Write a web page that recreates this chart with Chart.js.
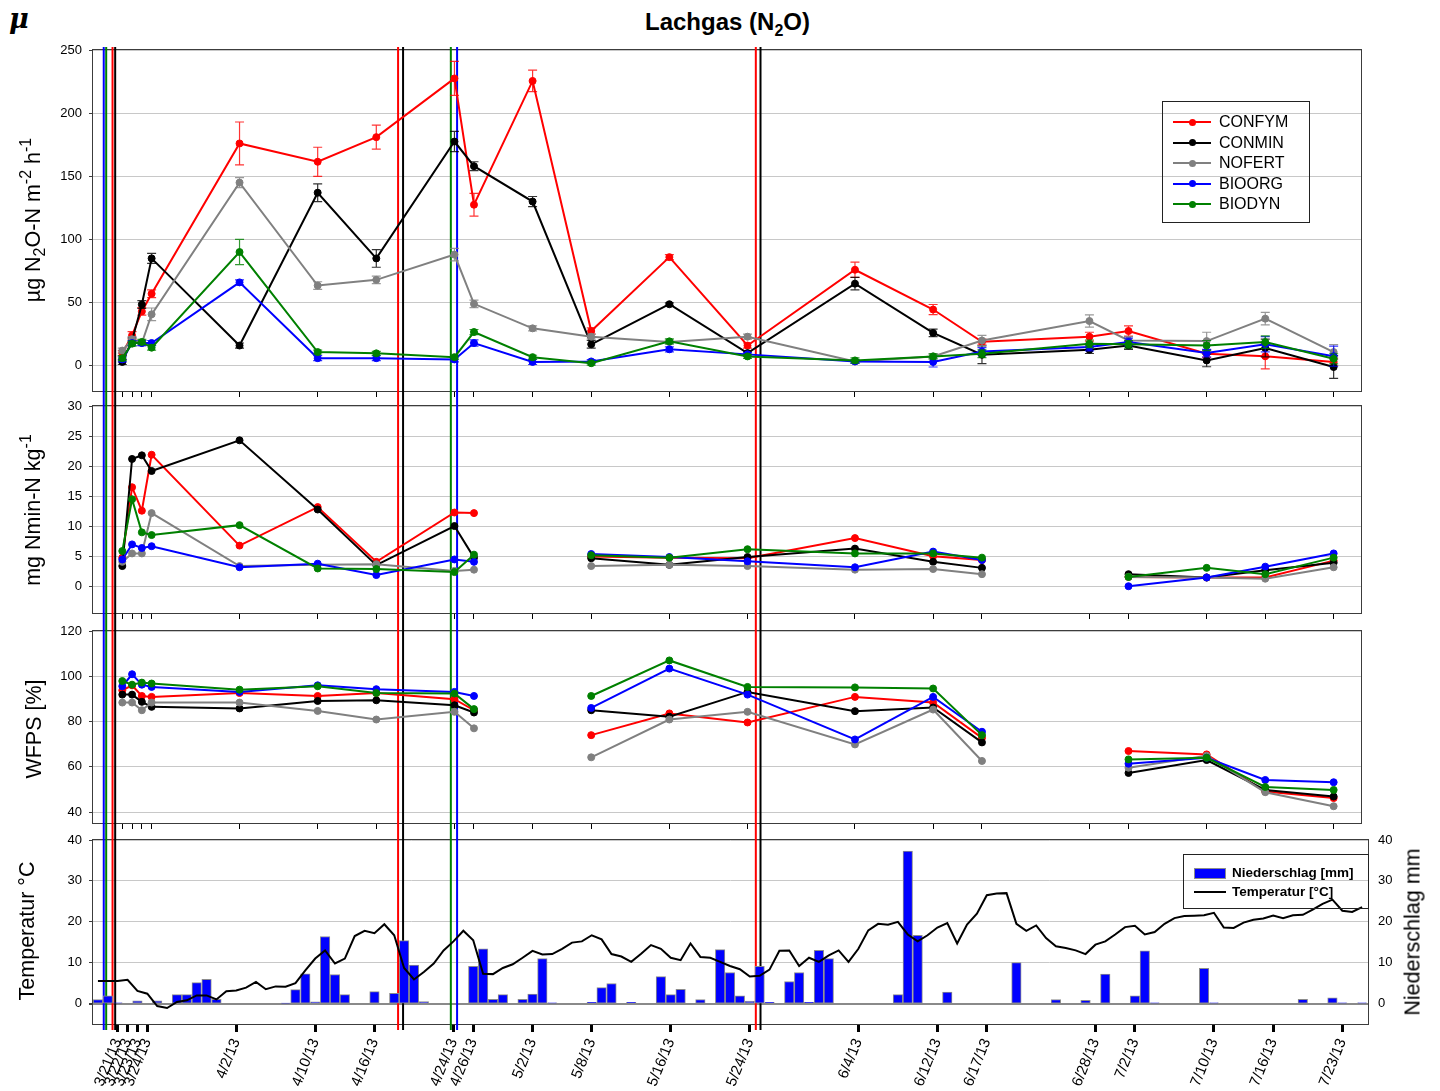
<!DOCTYPE html>
<html>
<head>
<meta charset="utf-8">
<title>Lachgas (N2O)</title>
<script src="https://cdn.jsdelivr.net/npm/chart.js@4.4.1/dist/chart.umd.min.js"></script>
<style>
  html, body { margin: 0; padding: 0; background: #fff; }
  #wrap { position: relative; width: 1440px; height: 1091px; overflow: hidden;
          font-family: "Liberation Sans", Arial, sans-serif; color: #000; }
  .panel { position: absolute; left: 0; width: 1440px; }
  .panel canvas { display: block; }
  #title { position: absolute; left: 0; width: 1455px; top: 8px; text-align: center;
           font-weight: bold; font-size: 24px; }
  #title sub { font-size: 16px; vertical-align: -6px; line-height: 0; }
  #mu { position: absolute; left: 9px; top: 3px; font-family: "DejaVu Serif", "Liberation Serif", serif;
        font-style: italic; font-weight: bold; font-size: 27px; }
  .ytitle { position: absolute; white-space: nowrap; font-size: 21.5px;
            transform: translate(-50%, -50%) rotate(-90deg); }
  .ytitle sub, .ytitle sup { font-size: 16px; line-height: 0; }
  .ytitle sub { vertical-align: -5px; }
  .ytitle sup { vertical-align: 9px; }
  .legend { position: absolute; border: 1px solid #222; box-sizing: border-box; }
  .legend .row { position: absolute; left: 0; height: 20px; line-height: 20px; white-space: nowrap; }
  .legend .mk { position: absolute; top: 9px; height: 2px; }
  .legend .dot { position: absolute; width: 7px; height: 7px; border-radius: 50%; top: -2.5px; left: 15.5px; }
  .legend .txt { position: absolute; top: 0; }
</style>
</head>
<body>
<div id="wrap">
  <div id="mu">μ</div>
  <div id="title">Lachgas (N<sub>2</sub>O)</div>

  <div class="panel" style="top:0px;height:398px"><canvas id="cN2O" width="1440" height="398"></canvas></div>
  <div class="panel" style="top:398px;height:224px"><canvas id="cNmin" width="1440" height="224"></canvas></div>
  <div class="panel" style="top:622px;height:210px"><canvas id="cWFPS" width="1440" height="210"></canvas></div>
  <div class="panel" style="top:832px;height:259px"><canvas id="cWeather" width="1440" height="259"></canvas></div>

  <div class="ytitle" style="left:33px;top:220px">µg N<sub>2</sub>O-N m<sup>-2</sup> h<sup>-1</sup></div>
  <div class="ytitle" style="left:33px;top:510px">mg Nmin-N kg<sup>-1</sup></div>
  <div class="ytitle" style="left:34px;top:729px">WFPS [%]</div>
  <div class="ytitle" style="left:27px;top:931px">Temperatur °C</div>
  <div class="ytitle" style="left:1413px;top:932px">Niederschlag mm</div>

  <div id="legendN2O" class="legend" style="left:1162px;top:101px;width:148px;height:122px;font-size:16px"></div>
  <div id="legendWeather" class="legend" style="left:1183px;top:854px;width:186px;height:55px;font-size:13.5px;font-weight:bold"></div>
</div>

<script>
// ---------------- data ----------------
const SERIES = ['CONFYM', 'CONMIN', 'NOFERT', 'BIOORG', 'BIODYN'];
const SERIES_COLORS = ['#ff0000', '#000000', '#808080', '#0000ff', '#008000'];

const sampleDates = ['3/21/13', '3/22/13', '3/23/13', '3/24/13', '4/2/13', '4/10/13', '4/16/13',
  '4/24/13', '4/26/13', '5/2/13', '5/8/13', '5/16/13', '5/24/13', '6/4/13', '6/12/13', '6/17/13',
  '6/28/13', '7/2/13', '7/10/13', '7/16/13', '7/23/13'];

// N2O flux [µg N2O-N m-2 h-1]: means and standard errors per treatment
const n2oCONFYM = [10, 24, 43, 57, 176, 161.5, 181, 227.5, 127.5, 225.5, 27.5, 86, 16, 76, 44.5, 19, 23, 27.5, 9.5, 7.5, 3];
const n2oCONMIN = [3, 20, 48.5, 85, 16, 137, 85, 177.5, 158, 130, 17, 48.7, 10, 65, 26, 8.7, 12.7, 16, 4.2, 14, -1];
const n2oNOFERT = [12, 21, 18, 40.7, 145, 63.5, 68, 88, 49, 29.6, 23, 18.8, 23, 3.4, 7.4, 20, 35.4, 20, 19.5, 37.3, 10.8];
const n2oBIOORG = [5, 18, 18, 18, 66, 6, 6, 5, 18, 3, 3.4, 13, 9, 3.4, 3, 11.3, 14.8, 18.8, 10, 17, 7.6];
const n2oBIODYN = [6, 17.5, 18.8, 14.3, 90, 10.8, 9.8, 6.8, 26.7, 6.8, 2, 19.3, 7.4, 4.2, 7.4, 9.5, 17.4, 17, 16, 18.7, 5.5];

const seCONFYM = [2, 3, 3, 3, 17, 11.5, 9.5, 13.5, 9, 8.5, 2.5, 2, 2, 6, 4, 2, 3.5, 4, 3, 10, 3];
const seCONMIN = [2, 2, 3, 4, 2, 7, 7, 8, 3.5, 4, 3, 1, 1.5, 5, 3, 7, 3, 3, 5, 7, 9];
const seNOFERT = [2, 2, 2, 5, 4, 3, 3, 5, 3, 2, 2, 1.5, 2, 1.5, 2, 4, 4.8, 3, 7, 5, 6];
const seBIOORG = [2, 2, 2, 2, 2, 2, 2, 2, 2.5, 2, 1.5, 2, 1.5, 1.5, 4, 3, 3, 3, 3, 6, 8];
const seBIODYN = [2, 2, 2, 2, 10, 1.5, 1.5, 1.5, 2, 1.5, 1.5, 2, 1.5, 2, 2, 3, 3, 3, 4, 5, 4];

// Mineral nitrogen [mg Nmin-N kg-1] (no samples on 5/2 and 6/28)
const nminCONFYM = [4.8, 16.5, 12.6, 21.9, 6.8, 13.2, 4.1, 12.3, 12.2, null, 5.0, 4.8, 4.7, 8.05, 5.05, 4.4, null, 1.6, 1.5, 1.5, 4.3];
const nminCONMIN = [3.4, 21.2, 21.8, 19.2, 24.3, 12.8, 3.55, 10.05, 4.8, null, 4.7, 3.6, 4.9, 6.3, 4.1, 3.1, null, 2.05, 1.5, 2.7, 3.95];
const nminNOFERT = [4.1, 5.5, 5.5, 12.2, 3.4, 3.6, 3.7, 2.6, 2.8, null, 3.4, 3.6, 3.4, 2.8, 2.9, 2.05, null, 1.6, 1.5, 1.3, 3.2];
const nminBIOORG = [4.5, 7.0, 6.4, 6.7, 3.2, 3.8, 1.9, 4.5, 4.1, null, 5.4, 4.9, 4.2, 3.2, 5.8, 4.4, null, 0.05, 1.5, 3.3, 5.5];
const nminBIODYN = [5.9, 14.5, 9.0, 8.55, 10.2, 3.0, 2.9, 2.4, 5.3, null, 5.2, 4.8, 6.2, 5.5, 5.5, 4.8, null, 1.6, 3.1, 2.05, 4.8];

// Water-filled pore space [%]
const wfpsCONFYM = [93.8, 96.0, 91.3, 90.9, 92.6, 91.3, 92.6, 89.9, 85.0, null, 74.0, 83.6, 79.6, 90.9, 88.4, 72.8, null, 67.0, 65.5, 49.1, 46.2];
const wfpsCONMIN = [91.9, 91.9, 88.7, 86.5, 85.8, 89.1, 89.4, 87.2, 84.0, null, 85.0, 82.1, 93.1, 84.6, 86.2, 70.8, null, 57.3, 63.0, 49.8, 46.9];
const wfpsNOFERT = [88.4, 88.4, 85.0, 88.4, 88.4, 84.7, 80.9, 84.3, 77.0, null, 64.2, 80.9, 84.3, 69.9, 85.3, 62.6, null, 59.6, 64.9, 48.8, 42.6];
const wfpsBIOORG = [95.6, 100.9, 96.3, 95.3, 93.1, 96.0, 94.3, 93.1, 91.3, null, 86.0, 103.4, 91.9, 72.1, 90.9, 75.5, null, 61.4, 64.0, 54.2, 53.2];
const wfpsBIODYN = [97.9, 96.3, 97.2, 96.8, 94.1, 95.6, 92.6, 92.4, 85.5, null, 91.3, 107.0, 95.3, 95.1, 94.6, 74.0, null, 63.3, 64.0, 51.1, 49.8];

// Daily weather from 3/19/13 onwards
const weatherStart = '3/19/13';
const temperature = [
  5.5, 5.5, 5.5, 5.8, 3.1, 2.4, -0.6, -1.1, 0.4, 0.8, 2.0, 2.0, 1.0, 3.0,
  3.2, 3.9, 5.3, 3.5, 4.2, 4.1, 5.0, 8.1, 11.0, 13.0, 9.8, 11.0, 16.5, 17.8,
  17.2, 19.4, 16.7, 8.7, 5.9, 7.7, 9.8, 13.0, 15.2, 17.8, 15.5, 7.3, 7.2, 8.7,
  9.6, 11.2, 12.9, 12.0, 12.1, 13.4, 14.9, 15.2, 16.7, 15.7, 12.1, 11.5, 10.2, 12.2,
  14.3, 13.4, 11.2, 10.6, 14.7, 11.4, 11.2, 10.2, 9.2, 8.4, 6.6, 6.8, 8.3, 12.9,
  13.0, 9.2, 11.2, 10.2, 11.8, 13.0, 10.2, 13.4, 17.9, 19.5, 19.3, 20.0, 16.9, 15.2,
  16.7, 18.6, 19.7, 14.7, 19.3, 22.0, 26.5, 26.9, 27.0, 19.5, 17.8, 19.1, 16.0, 14.0,
  13.6, 13.0, 12.1, 14.4, 15.2, 16.9, 18.7, 19.0, 16.9, 17.5, 19.5, 20.9, 21.4, 21.5,
  21.6, 22.2, 18.6, 18.5, 19.8, 20.5, 20.8, 21.5, 20.9, 21.6, 21.7, 23.0, 24.4, 25.4,
  22.7, 22.4, 23.6];
const precipitation = [
  1.0, 1.9, 0.2, 0, 0.65, 0, 0.65, 0, 2.2, 2.2, 5.1, 5.9, 1.05, 0,
  0, 0, 0, 0, 0, 0.1, 3.4, 7.3, 0.4, 16.4, 7.1, 2.2, 0, 0,
  2.9, 0, 2.5, 15.4, 9.4, 0.5, 0, 0, 0, 0, 9.1, 13.4, 1.05, 2.2,
  0, 1.05, 2.3, 11.0, 0.2, 0, 0, 0, 0.3, 3.9, 4.9, 0, 0.3, 0,
  0, 6.6, 2.2, 3.5, 0, 1.0, 0, 13.2, 7.6, 1.9, 0.6, 9.1, 0.3, 0,
  5.4, 7.6, 0.3, 13.0, 11.0, 0, 0, 0, 0, 0, 0, 2.2, 37.3, 16.7,
  0, 0, 2.8, 0, 0, 0, 0, 0, 0, 10.0, 0, 0, 0, 1.0,
  0, 0, 0.8, 0, 7.2, 0, 0, 1.9, 12.9, 0.2, 0, 0, 0, 0,
  8.6, 0.2, 0, 0, 0, 0, 0, 0, 0, 0, 1.05, 0, 0, 1.4,
  0.2, 0, 0.2];

// Management events (day offsets from 4/2/13) and the treatment each belongs to
const eventDays = [-13.9, -13.65, -13.0, -12.73, 16.23, 16.74, 21.63, 22.27, 52.85, 53.33];
const eventSeries = ['BIOORG', 'BIODYN', 'CONFYM', 'CONMIN', 'CONFYM', 'CONMIN', 'BIODYN', 'BIOORG', 'CONFYM', 'CONMIN'];

// Axis tick values
const n2oTicks = [0, 50, 100, 150, 200, 250];
const nminTicks = [0, 5, 10, 15, 20, 25, 30];
const wfpsTicks = [40, 60, 80, 100, 120];
const weatherTicks = [0, 10, 20, 30, 40];

// ---------------- helpers ----------------
const REF = Date.UTC(2013, 3, 2);
function dayOf(s) {
  const [m, d, y] = s.split('/').map(Number);
  return (Date.UTC(2000 + y, m - 1, d) - REF) / 86400000;
}
const sampleDays = sampleDates.map(dayOf);
const weatherDay0 = dayOf(weatherStart);

Chart.defaults.font.family = '"Liberation Sans", Arial, sans-serif';
Chart.defaults.font.size = 13;
Chart.defaults.color = '#000';

const charts = [];
const EVENT_TOP = 47, EVENT_BOTTOM = 1030;

const panelFrame = {
  id: 'panelFrame',
  beforeDatasetsDraw(chart) {
    const { ctx, chartArea: a } = chart;
    ctx.save();
    ctx.strokeStyle = '#3c3c3c';
    ctx.lineWidth = 1;
    const l = Math.round(a.left) - 0.5, t = Math.round(a.top) - 0.5;
    ctx.strokeRect(l, t, Math.round(a.right) - Math.round(a.left) + 1, Math.round(a.bottom) - Math.round(a.top) + 1);
    ctx.restore();
  }
};

const eventMarks = {
  id: 'eventMarks',
  beforeDatasetsDraw(chart, args, opts) {
    const ref = (charts.length ? charts[0] : chart).scales.x;
    const ctx = chart.ctx;
    const y0 = Math.max(0, EVENT_TOP - opts.pageTop);
    const y1 = Math.min(chart.height, EVENT_BOTTOM - opts.pageTop);
    ctx.save();
    ctx.lineWidth = 2;
    eventDays.forEach((d, i) => {
      const x = ref.getPixelForValue(d);
      ctx.strokeStyle = SERIES_COLORS[SERIES.indexOf(eventSeries[i])];
      ctx.beginPath();
      ctx.moveTo(x, y0);
      ctx.lineTo(x, y1);
      ctx.stroke();
    });
    ctx.restore();
  }
};

const errorBars = {
  id: 'errorBars',
  beforeDatasetDraw(chart, args) {
    const ds = chart.data.datasets[args.index];
    if (!ds.errorBars) return;
    const ys = chart.scales[args.meta.yAxisID];
    const xs = chart.scales.x;
    const ctx = chart.ctx;
    ctx.save();
    ctx.strokeStyle = ds.borderColor;
    ctx.globalAlpha = 0.8;
    ctx.lineWidth = 1.2;
    ds.data.forEach((p, k) => {
      const e = ds.errorBars[k];
      if (p.y == null || !e) return;
      const x = xs.getPixelForValue(p.x);
      const yl = ys.getPixelForValue(p.y - e), yh = ys.getPixelForValue(p.y + e);
      ctx.beginPath();
      ctx.moveTo(x, yl); ctx.lineTo(x, yh);
      ctx.moveTo(x - 4.5, yl); ctx.lineTo(x + 4.5, yl);
      ctx.moveTo(x - 4.5, yh); ctx.lineTo(x + 4.5, yh);
      ctx.stroke();
    });
    ctx.restore();
  }
};

function seriesDatasets(values, errors) {
  return SERIES.map((name, i) => ({
    type: 'line',
    label: name,
    data: sampleDays.map((x, k) => ({ x, y: values[i][k] })),
    errorBars: errors ? errors[i] : null,
    borderColor: SERIES_COLORS[i],
    backgroundColor: SERIES_COLORS[i],
    borderWidth: 2,
    pointRadius: 3.5,
    pointHoverRadius: 3.5,
    pointBorderWidth: 1,
    tension: 0,
    spanGaps: false,
    order: SERIES.length - i
  }));
}

function xAxis(min, max, height, labels) {
  return {
    type: 'linear', min, max, offset: false,
    afterBuildTicks: s => { s.ticks = sampleDays.map(v => ({ value: v })); },
    afterFit: s => { s.height = height; s.paddingLeft = 0; s.paddingRight = 0; },
    border: { display: false },
    grid: labels
      ? { drawOnChartArea: false, drawTicks: true, tickLength: 8, tickWidth: 3, tickColor: '#000', offset: false }
      : { drawOnChartArea: false, drawTicks: true, tickLength: 6, tickWidth: 1, tickColor: '#000', offset: false },
    ticks: labels
      ? { display: true, autoSkip: false, minRotation: 68, maxRotation: 68, padding: 4,
          font: { size: 15 }, callback: (v, i) => sampleDates[i] }
      : { display: false }
  };
}

function yAxis(min, max, ticks, position, opts = {}) {
  return Object.assign({
    type: 'linear', position, min, max,
    afterBuildTicks: s => { s.ticks = ticks.map(v => ({ value: v })); },
    afterFit: s => { s.width = position === 'left' ? 93 : 72; s.paddingTop = 0; s.paddingBottom = 0; },
    border: { display: false },
    grid: { color: '#c8c8c8', lineWidth: 1, drawTicks: true, tickLength: 4, tickColor: '#3c3c3c' },
    ticks: { padding: 7, font: { size: 13 } }
  }, opts);
}

function baseOptions(pageTop, padTop, padRight) {
  return {
    responsive: false,
    animation: false,
    events: [],
    layout: { padding: { top: padTop, right: padRight, bottom: 0, left: 0 } },
    plugins: {
      legend: { display: false },
      tooltip: { enabled: false },
      eventMarks: { pageTop }
    }
  };
}

// ---------------- panel 1: N2O flux ----------------
const opt1 = baseOptions(0, 50, 79);
opt1.scales = { x: xAxis(-15, 114.8, 7, false), y: yAxis(-20, 250, n2oTicks, 'left') };
charts.push(new Chart(document.getElementById('cN2O'), {
  type: 'line',
  data: { datasets: seriesDatasets(
    [n2oCONFYM, n2oCONMIN, n2oNOFERT, n2oBIOORG, n2oBIODYN],
    [seCONFYM, seCONMIN, seNOFERT, seBIOORG, seBIODYN]) },
  options: opt1,
  plugins: [panelFrame, eventMarks, errorBars]
}));

// ---------------- panel 2: Nmin ----------------
const opt2 = baseOptions(398, 8, 79);
opt2.scales = { x: xAxis(-15, 114.8, 9, false), y: yAxis(-4.4, 30, nminTicks, 'left') };
charts.push(new Chart(document.getElementById('cNmin'), {
  type: 'line',
  data: { datasets: seriesDatasets([nminCONFYM, nminCONMIN, nminNOFERT, nminBIOORG, nminBIODYN]) },
  options: opt2,
  plugins: [panelFrame, eventMarks]
}));

// ---------------- panel 3: WFPS ----------------
const opt3 = baseOptions(622, 9, 79);
opt3.scales = { x: xAxis(-15, 114.8, 9, false), y: yAxis(35.2, 120, wfpsTicks, 'left') };
charts.push(new Chart(document.getElementById('cWFPS'), {
  type: 'line',
  data: { datasets: seriesDatasets([wfpsCONFYM, wfpsCONMIN, wfpsNOFERT, wfpsBIOORG, wfpsBIODYN]) },
  options: opt3,
  plugins: [panelFrame, eventMarks]
}));

// ---------------- panel 4: weather ----------------
const opt4 = baseOptions(832, 8, 0);
opt4.scales = {
  x: xAxis(-14.5, 114.6, 67, true),
  y: yAxis(-5, 40, weatherTicks, 'left', {
    grid: {
      color: c => (c.tick && c.tick.value === 0 ? '#8a8a8a' : '#c8c8c8'),
      lineWidth: c => (c.tick && c.tick.value === 0 ? 2 : 1),
      drawTicks: true, tickLength: 4, tickColor: '#3c3c3c'
    }
  }),
  y2: yAxis(-5, 40, weatherTicks, 'right', {
    grid: { drawOnChartArea: false, drawTicks: false },
    ticks: { padding: 10, font: { size: 13 } }
  })
};
charts.push(new Chart(document.getElementById('cWeather'), {
  type: 'bar',
  data: {
    datasets: [
      {
        type: 'line',
        label: 'Temperatur [°C]',
        data: temperature.map((t, i) => ({ x: weatherDay0 + i, y: t })),
        yAxisID: 'y',
        borderColor: '#000', backgroundColor: '#000',
        borderWidth: 2, pointRadius: 0, tension: 0,
        order: 1
      },
      {
        type: 'bar',
        label: 'Niederschlag [mm]',
        data: precipitation.map((p, i) => ({ x: weatherDay0 + i, y: p })),
        yAxisID: 'y2',
        backgroundColor: '#0000ff', borderColor: '#8c8c8c', borderWidth: 1,
        barThickness: 9.5, borderSkipped: false,
        order: 2
      }
    ]
  },
  options: opt4,
  plugins: [panelFrame, eventMarks]
}));

// ---------------- legends ----------------
(function buildLegends() {
  const l1 = document.getElementById('legendN2O');
  charts[0].data.datasets.forEach((ds, i) => {
    const row = document.createElement('div');
    row.className = 'row';
    row.style.top = (10 + i * 20.5) + 'px';
    row.innerHTML =
      '<span class="mk" style="left:10px;width:38px;background:' + ds.borderColor + '">' +
      '<span class="dot" style="background:' + ds.borderColor + '"></span></span>' +
      '<span class="txt" style="left:56px">' + ds.label + '</span>';
    l1.appendChild(row);
  });

  const l2 = document.getElementById('legendWeather');
  const wds = charts[3].data.datasets;
  const rain = wds[1], temp = wds[0];
  const r1 = document.createElement('div');
  r1.className = 'row';
  r1.style.top = '8px';
  r1.innerHTML =
    '<span style="position:absolute;left:10px;top:5px;width:30px;height:9px;background:' + rain.backgroundColor +
    ';border:1px solid ' + rain.borderColor + '"></span>' +
    '<span class="txt" style="left:48px">' + rain.label + '</span>';
  l2.appendChild(r1);
  const r2 = document.createElement('div');
  r2.className = 'row';
  r2.style.top = '27px';
  r2.innerHTML =
    '<span class="mk" style="left:10px;width:32px;background:' + temp.borderColor + '"></span>' +
    '<span class="txt" style="left:48px">' + temp.label + '</span>';
  l2.appendChild(r2);
})();
</script>
</body>
</html>
